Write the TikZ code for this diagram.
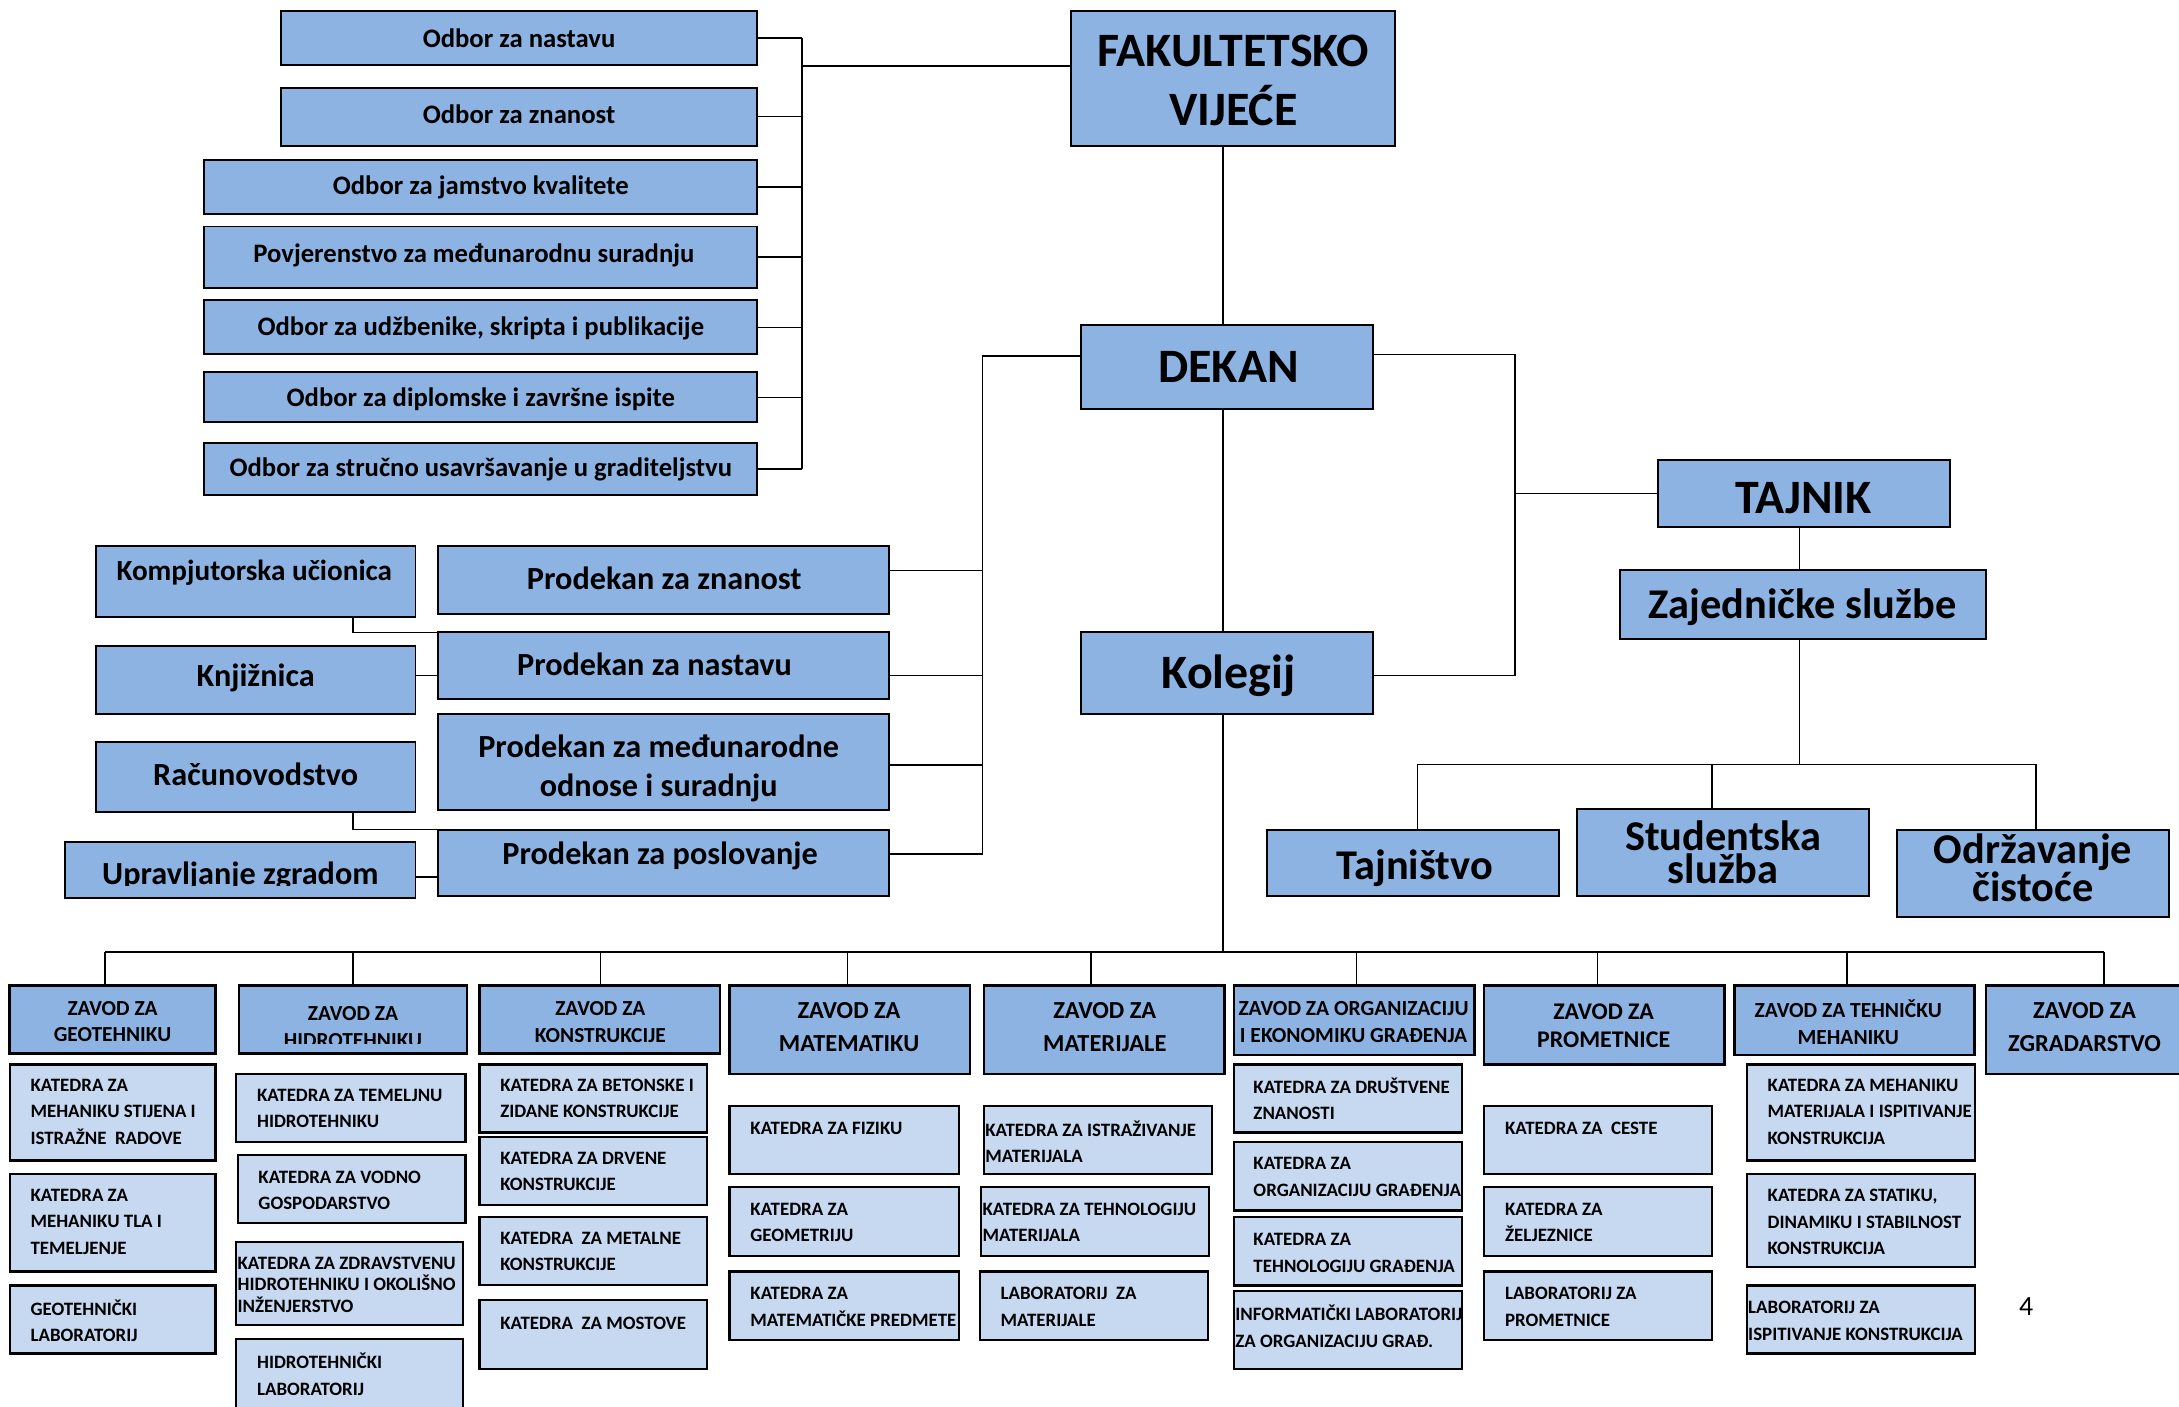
\documentclass[tikz,border=0pt]{standalone}
\usepackage{fontspec}
\setmainfont{Carlito}
\usetikzlibrary{calc}
\definecolor{dk}{HTML}{8DB3E2}
\definecolor{lt}{HTML}{C6D9F1}
\newcommand\fs[2]{\fontsize{#1}{#2}\selectfont\bfseries}
\tikzset{
 boxdk/.style={draw=black, fill=dk, line width=1.4pt, inner sep=0pt, outer sep=0pt},
 boxzv/.style={draw=black, fill=dk, line width=1.8pt, inner sep=0pt, outer sep=0pt},
 boxlt/.style={draw=black, fill=lt, line width=1.6pt, inner sep=0pt, outer sep=0pt},
 conn/.style={draw=black, line width=1.1pt},
 lbl/.style={inner sep=0pt, outer sep=0pt, text=black},
 fodb/.style={font=\fs{19.2}{23}},
 fbig/.style={font=\fs{34.5}{42}, align=center},
 fmid/.style={font=\fs{30.5}{23.5}, align=center},
 fpro/.style={font=\fs{23.2}{28}, align=center},
 fzs/.style={font=\fs{15.4}{19}, align=center},
 fzl/.style={font=\fs{17.6}{24}, align=center},
 fkat/.style={font=\fs{13.6}{19}, align=left, anchor=west},
}
\newcommand\bx[6]{\node[#2, minimum width={(#5-#3)*1pt}, minimum height={(#6-#4)*1pt}] (#1) at ({(#3+#5)/2},{(#4+#6)/2}) {};}
\newcommand\lb[5]{\node[lbl, #2] (#1) at (#3,#4) {#5};}
\begin{document}
\begin{tikzpicture}[x=1pt,y=-1pt]
\useasboundingbox[fill=white] (0,0) rectangle (1568,1012);
% ---------- committees ----------
\bx{o1}{boxdk}{202}{8}{545}{47}
\bx{o2}{boxdk}{202}{63}{545}{105}
\bx{o3}{boxdk}{147}{115}{545}{154}
\bx{o4}{boxdk}{147}{163}{545}{207}
\bx{o5}{boxdk}{147}{216}{545}{255}
\bx{o6}{boxdk}{147}{268}{545}{304}
\bx{o7}{boxdk}{147}{319}{545}{356}
\lb{to1}{fodb}{373.5}{27.5}{Odbor za nastavu}
\lb{to2}{fodb}{373.5}{82.5}{Odbor za znanost}
\lb{to3}{fodb}{346}{134.5}{Odbor za jamstvo kvalitete}
\lb{to4}{fodb}{341}{183.5}{Povjerenstvo za međunarodnu suradnju}
\lb{to5}{fodb}{346}{236}{Odbor za udžbenike, skripta i publikacije}
\lb{to6}{fodb}{346}{287}{Odbor za diplomske i završne ispite}
\lb{to7}{fodb}{346}{338}{Odbor za stručno usavršavanje u graditeljstvu}
% ---------- main chain ----------
\bx{fv}{boxdk}{771}{8}{1004}{105}
\lb{tfv}{fbig}{887.5}{58}{FAKULTETSKO\\VIJEĆE}
\bx{dekan}{boxdk}{778}{234}{988}{294}
\lb{tdekan}{fbig}{884}{264}{DEKAN}
\bx{kol}{boxdk}{778}{455}{988}{514}
\lb{tkol}{fbig}{884}{486}{Kolegij}
\bx{taj}{boxdk}{1193}{331}{1403}{379}
\lb{ttaj}{fbig}{1298}{358.5}{TAJNIK}
\bx{zaj}{boxdk}{1166}{410}{1429}{460}
\lb{tzaj}{fmid}{1297}{437}{Zajedničke službe}
\bx{tajn}{boxdk}{912}{597}{1122}{645}
\lb{ttajn}{fmid}{1018}{625}{Tajništvo}
\bx{stud}{boxdk}{1135}{582}{1345}{645}
\lb{tstud}{fmid}{1240}{613.5}{Studentska\\služba}
\bx{odr}{boxdk}{1365}{597}{1561}{660}
\lb{todr}{fmid}{1463}{624.5}{Održavanje\\čistoće}
% ---------- prodekani ----------
\bx{pz}{boxdk}{315}{393}{640}{442}
\lb{tpz}{fpro}{478}{416}{Prodekan za znanost}
\bx{pn}{boxdk}{315}{455}{640}{503}
\lb{tpn}{fpro}{471}{478}{Prodekan za nastavu}
\bx{pm}{boxdk}{315}{514}{640}{583}
\lb{tpm}{fpro}{474}{553}{Prodekan za međunarodne\\odnose i suradnju}
\bx{pp}{boxdk}{315}{597}{640}{645}
\lb{tpp}{fpro}{475}{616}{Prodekan za poslovanje}
% ---------- services left ----------
\bx{komp}{boxdk}{69}{393}{299}{444}
\lb{tkomp}{font=\fs{21}{24}}{183}{412}{Kompjutorska učionica}
\bx{knj}{boxdk}{69}{465}{299}{514}
\lb{tknj}{fpro}{184}{488}{Knjižnica}
\bx{rac}{boxdk}{69}{534}{299}{584}
\lb{trac}{fpro}{184}{557}{Računovodstvo}
\bx{upr}{boxdk}{47}{606}{299}{646}
\begin{scope}
\clip (47,606) rectangle (299,637.5);
\node[lbl, font=\fs{23.2}{28}, anchor=base] (tupr) at (173,636.5) {Upravljanje zgradom};
\end{scope}
% ---------- zavodi ----------
\bx{z1}{boxzv}{7}{709}{155}{758}
\lb{tz1}{fzs}{81}{735}{ZAVOD ZA\\GEOTEHNIKU}
\bx{z2}{boxzv}{172}{709}{336}{758}
\begin{scope}
\clip (172,709) rectangle (336,751);
\node[lbl, fzs] (tz2) at (254,739) {ZAVOD ZA\\HIDROTEHNIKU};
\end{scope}
\bx{z3}{boxzv}{345}{709}{518}{758}
\lb{tz3}{fzs}{432}{735.5}{ZAVOD ZA\\KONSTRUKCIJE}
\bx{z4}{boxzv}{525}{709}{698}{773}
\lb{tz4}{fzl}{611}{739}{ZAVOD ZA\\MATEMATIKU}
\bx{z5}{boxzv}{708}{709}{881}{773}
\lb{tz5}{fzl}{795}{739}{ZAVOD ZA\\MATERIJALE}
\bx{z6}{boxzv}{888}{709}{1061}{759}
\lb{tz6}{font=\fs{15.5}{19}, align=center}{974}{735.5}{ZAVOD ZA ORGANIZACIJU\\I EKONOMIKU GRAĐENJA}
\bx{z7}{boxzv}{1068}{709}{1241}{766}
\lb{tz7}{font=\fs{17.2}{20}, align=center}{1154}{738}{ZAVOD ZA\\PROMETNICE}
\bx{z8}{boxzv}{1248}{709}{1421}{759}
\lb{tz8}{font=\fs{15.5}{19}, align=center}{1330}{735.5}{ZAVOD ZA TEHNIČKU\\MEHANIKU}
\bx{z9}{boxzv}{1429}{709}{1576}{773}
\lb{tz9}{fzl}{1500}{739}{ZAVOD ZA\\ZGRADARSTVO}
% ---------- katedre ----------
\bx{k11}{boxlt}{7}{766}{155}{835}
\lb{tk11}{fkat}{22}{800}{KATEDRA ZA\\MEHANIKU STIJENA I\\ISTRAŽNE~ RADOVE}
\bx{k12}{boxlt}{7}{845}{155}{915}
\lb{tk12}{fkat}{22}{879}{KATEDRA ZA\\MEHANIKU TLA I\\TEMELJENJE}
\bx{k13}{boxlt}{7}{925}{155}{974}
\lb{tk13}{fkat}{22}{950.5}{GEOTEHNIČKI\\LABORATORIJ}
\bx{k21}{boxlt}{170}{773}{335}{821.5}
\lb{tk21}{fkat}{185}{797.5}{KATEDRA ZA TEMELJNU\\HIDROTEHNIKU}
\bx{k22}{boxlt}{171}{831}{335}{880}
\lb{tk22}{fkat}{186}{856.5}{KATEDRA ZA VODNO\\GOSPODARSTVO}
\bx{k23}{boxlt}{170}{893.5}{333}{953.5}
\lb{tk23}{fkat, font=\fs{13.6}{15.5}}{171}{924.5}{KATEDRA ZA ZDRAVSTVENU\\HIDROTEHNIKU I OKOLIŠNO\\INŽENJERSTVO}
\bx{k24}{boxlt}{170}{963.5}{333}{1016}
\lb{tk24}{fkat}{185}{989}{HIDROTEHNIČKI\\LABORATORIJ}
\bx{k31}{boxlt}{345}{766}{509}{815}
\lb{tk31}{fkat}{360}{790.5}{KATEDRA ZA BETONSKE I\\ZIDANE KONSTRUKCIJE}
\bx{k32}{boxlt}{345}{818}{509}{867}
\lb{tk32}{fkat}{360}{843}{KATEDRA ZA DRVENE\\KONSTRUKCIJE}
\bx{k33}{boxlt}{345}{875.5}{509}{924.7}
\lb{tk33}{fkat}{360}{900.5}{KATEDRA~ ZA METALNE\\KONSTRUKCIJE}
\bx{k34}{boxlt}{345}{935.5}{509}{985}
\lb{tk34}{fkat}{360}{952}{KATEDRA~ ZA MOSTOVE}
\bx{k41}{boxlt}{525}{796}{690}{845}
\lb{tk41}{fkat}{540}{812}{KATEDRA ZA FIZIKU}
\bx{k42}{boxlt}{525}{854}{690}{904}
\lb{tk42}{fkat}{540}{879.5}{KATEDRA ZA\\GEOMETRIJU}
\bx{k43}{boxlt}{525}{915}{690}{964}
\lb{tk43}{fkat}{540}{940.5}{KATEDRA ZA\\MATEMATIČKE PREDMETE}
\bx{k51}{boxlt}{708}{796}{872}{845}
\lb{tk51}{fkat}{709}{821.5}{KATEDRA ZA ISTRAŽIVANJE\\MATERIJALA}
\bx{k52}{boxlt}{706}{854}{870}{904}
\lb{tk52}{fkat}{707}{879.5}{KATEDRA ZA TEHNOLOGIJU\\MATERIJALA}
\bx{k53}{boxlt}{705}{915}{869}{964}
\lb{tk53}{fkat}{720}{940.5}{LABORATORIJ~ ZA\\MATERIJALE}
\bx{k61}{boxlt}{888}{766}{1052}{815}
\lb{tk61}{fkat}{902}{790.5}{KATEDRA ZA DRUŠTVENE\\ZNANOSTI}
\bx{k62}{boxlt}{888}{821.5}{1052}{871}
\lb{tk62}{fkat}{902}{847}{KATEDRA ZA\\ORGANIZACIJU GRAĐENJA}
\bx{k63}{boxlt}{888}{875.5}{1052}{925}
\lb{tk63}{fkat}{902}{901.5}{KATEDRA ZA\\TEHNOLOGIJU GRAĐENJA}
\bx{k64}{boxlt}{888}{929}{1052}{985}
\lb{tk64}{fkat}{889}{954.5}{INFORMATIČKI LABORATORIJ\\ZA ORGANIZACIJU GRAĐ.}
\bx{k71}{boxlt}{1068}{796}{1232}{845}
\lb{tk71}{fkat}{1083}{812}{KATEDRA ZA~ CESTE}
\bx{k72}{boxlt}{1068}{854}{1232}{904}
\lb{tk72}{fkat}{1083}{879.5}{KATEDRA ZA\\ŽELJEZNICE}
\bx{k73}{boxlt}{1068}{915}{1232}{964}
\lb{tk73}{fkat}{1083}{940.5}{LABORATORIJ ZA\\PROMETNICE}
\bx{k81}{boxlt}{1257}{766}{1421}{835}
\lb{tk81}{fkat}{1272}{800}{KATEDRA ZA MEHANIKU\\MATERIJALA I ISPITIVANJE\\KONSTRUKCIJA}
\bx{k82}{boxlt}{1257}{845}{1421}{911.5}
\lb{tk82}{fkat}{1272}{879.5}{KATEDRA ZA STATIKU,\\DINAMIKU I STABILNOST\\KONSTRUKCIJA}
\bx{k83}{boxlt}{1257}{925}{1421}{974}
\lb{tk83}{fkat}{1258}{950.5}{LABORATORIJ ZA\\ISPITIVANJE KONSTRUKCIJA}
\lb{pg}{font=\fontsize{20}{24}\selectfont}{1458}{940}{4}
% ---------- connectors ----------
\coordinate (vb) at (577,47.5);
\foreach \o in {o1,o2,o3,o4,o5,o6,o7}{\draw[conn] (\o.east) -- (\o.east -| vb);}
\draw[conn] (o1.east -| vb) -- (o7.east -| vb);
\draw[conn] (vb) -- (vb -| fv.west);
\coordinate (sp) at (880,0);
\draw[conn] (fv.south -| sp) -- (dekan.north -| sp);
\draw[conn] (dekan.south -| sp) -- (kol.north -| sp);
\coordinate (bus) at (880,685);
\draw[conn] (kol.south -| sp) -- (bus);
\coordinate (d1) at (75.5,685);
\coordinate (d2) at (254,685);
\coordinate (d3) at (432,685);
\coordinate (d4) at (610,685);
\coordinate (d5) at (785,685);
\coordinate (d6) at (976,685);
\coordinate (d7) at (1149.5,685);
\coordinate (d8) at (1329,685);
\coordinate (d9) at (1514,685);
\draw[conn] (d1) -- (d9);
\foreach \i in {1,...,9}{\draw[conn] (d\i) -- (z\i.north -| d\i);}
\coordinate (rj1) at (1090,255);
\coordinate (rj2) at (1090,355);
\coordinate (rj3) at (1090,486);
\draw[conn] (dekan.east |- rj1) -- (rj1) -- (rj3) -- (kol.east |- rj3);
\draw[conn] (rj2) -- (taj.west |- rj2);
\coordinate (zx) at (1295,0);
\draw[conn] (taj.south -| zx) -- (zaj.north -| zx);
\coordinate (sj) at (1295,550);
\draw[conn] (zaj.south -| zx) -- (sj);
\coordinate (sl) at (1020,550);
\coordinate (sm) at (1232,550);
\coordinate (sr) at (1465,550);
\draw[conn] (sl) -- (sr);
\draw[conn] (sl) -- (tajn.north -| sl);
\draw[conn] (sm) -- (stud.north -| sm);
\draw[conn] (sr) -- (odr.north -| sr);
\coordinate (lj) at (707,256);
\coordinate (lp1) at (707,410.5);
\coordinate (lp2) at (707,486);
\coordinate (lp3) at (707,550.5);
\coordinate (lp4) at (707,614.5);
\draw[conn] (dekan.west |- lj) -- (lj) -- (lp4);
\draw[conn] (pz.east |- lp1) -- (lp1);
\draw[conn] (pn.east |- lp2) -- (lp2);
\draw[conn] (pm.east |- lp3) -- (lp3);
\draw[conn] (pp.east |- lp4) -- (lp4);
\coordinate (ka) at (254,455);
\draw[conn] (komp.south -| ka) -- (ka) -- (pn.north west);
\coordinate (kb) at (307,486);
\draw[conn] (knj.east |- kb) -- (pn.west |- kb);
\coordinate (ra) at (254,597);
\draw[conn] (rac.south -| ra) -- (ra) -- (pp.north west);
\coordinate (ub) at (307,631);
\draw[conn] (upr.east |- ub) -- (pp.west |- ub);
\end{tikzpicture}
\end{document}
